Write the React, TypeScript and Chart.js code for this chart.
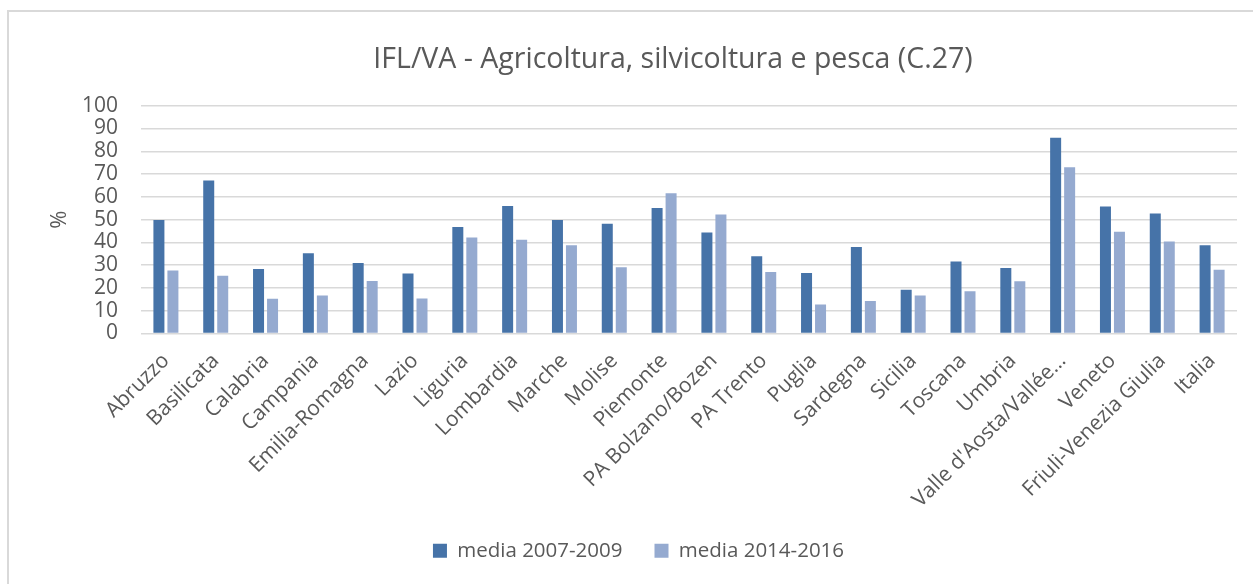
import React, { useEffect, useRef } from 'react';
import { Chart, registerables } from 'chart.js';

Chart.register(...registerables);

const titleText = 'IFL/VA - Agricoltura, silvicoltura e pesca (C.27)';
const yAxisTitle = '%';
const categories = [
  'Abruzzo', 'Basilicata', 'Calabria', 'Campania', 'Emilia-Romagna', 'Lazio', 'Liguria',
  'Lombardia', 'Marche', 'Molise', 'Piemonte', 'PA Bolzano/Bozen', 'PA Trento', 'Puglia',
  'Sardegna', 'Sicilia', 'Toscana', 'Umbria', "Valle d'Aosta/Vallée…", 'Veneto',
  'Friuli-Venezia Giulia', 'Italia',
];
const seriesNames = ['media 2007-2009', 'media 2014-2016'];
const media2007_2009 = [49.8, 67.2, 28.3, 35.2, 30.9, 26.3, 46.8, 56.0, 49.8, 48.2, 55.1, 44.3, 33.9, 26.6, 38.0, 19.2, 31.6, 28.7, 85.9, 55.8, 52.7, 38.7];
const media2014_2016 = [27.7, 25.3, 15.2, 16.7, 23.1, 15.4, 42.1, 41.1, 38.7, 29.1, 61.6, 52.2, 27.0, 12.7, 14.3, 16.7, 18.5, 22.9, 73.0, 44.7, 40.4, 28.0];
const yMin = 0;
const yMax = 100;
const yStep = 10;

const FONT = "'Open Sans', 'DejaVu Sans', sans-serif";
const TEXT = '#595959';

const titleShift = {
  id: 'titleShift',
  beforeDraw(chart: any) {
    const t = chart.titleBlock;
    if (t) {
      t.left = 40;
      t.right = 1306;
    }
  },
};

export default function App() {
  const ref = useRef<HTMLCanvasElement | null>(null);

  useEffect(() => {
    if (!ref.current) return;
    const chart = new Chart(ref.current, {
      type: 'bar',
      data: {
        labels: categories,
        datasets: [
          {
            label: seriesNames[0],
            data: media2007_2009,
            backgroundColor: '#4673A8',
            categoryPercentage: 0.562,
            barPercentage: 0.786,
          },
          {
            label: seriesNames[1],
            data: media2014_2016,
            backgroundColor: '#95AAD0',
            categoryPercentage: 0.562,
            barPercentage: 0.786,
          },
        ],
      },
      options: {
        animation: false,
        responsive: true,
        maintainAspectRatio: false,
        layout: { padding: { left: 40, right: 16, top: 0, bottom: 13 } },
        plugins: {
          title: {
            display: true,
            text: titleText,
            color: TEXT,
            font: { family: FONT, size: 28.5, weight: 'normal' },
            padding: { top: 43, bottom: 28.5 },
          },
          legend: {
            position: 'bottom',
            labels: {
              color: TEXT,
              font: { family: FONT, size: 20.5 },
              boxWidth: 14,
              boxHeight: 14,
              padding: 32,
            },
          },
          tooltip: { enabled: false },
        },
        scales: {
          x: {
            grid: { display: false, drawTicks: false },
            border: { display: false },
            ticks: {
              color: TEXT,
              font: { family: FONT, size: 21 },
              minRotation: 45,
              maxRotation: 45,
              autoSkip: false,
              padding: 15,
            },
            afterFit: (scale: any) => {
              scale.height = 175;
            },
          },
          y: {
            min: yMin,
            max: yMax,
            grid: { color: '#D9D9D9', lineWidth: 1.5, drawTicks: false },
            border: { display: false },
            ticks: {
              stepSize: yStep,
              autoSkip: false,
              color: TEXT,
              font: { family: FONT, size: 21 },
              padding: 23,
            },
            title: {
              display: true,
              text: yAxisTitle,
              color: TEXT,
              font: { family: FONT, size: 22 },
              padding: { top: 7, bottom: 0 },
            },
            afterFit: (scale: any) => {
              scale.width = 101;
            },
          },
        },
      },
      plugins: [titleShift],
    });
    return () => chart.destroy();
  }, []);

  return (
    <div style={{ position: 'fixed', left: 0, top: 0, width: 1253, height: 584, overflow: 'hidden', background: '#fff' }}>
      <div
        style={{
          position: 'absolute',
          left: 7,
          top: 10,
          width: 1400,
          height: 700,
          borderLeft: '2px solid #D9D9D9',
          borderTop: '2px solid #D9D9D9',
        }}
      />
      <div style={{ position: 'absolute', left: 0, top: 0, width: 1253, height: 584 }}>
        <canvas ref={ref} />
      </div>
    </div>
  );
}
